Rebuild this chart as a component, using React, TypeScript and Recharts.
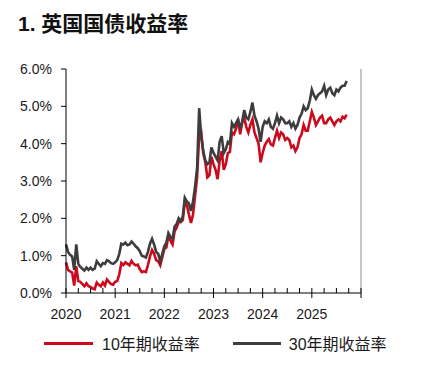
import React from 'react';
import { LineChart, Line, XAxis, YAxis } from 'recharts';

// half-monthly readings, Jan 2020 -> Sep 2025 (24 per year)
const startYear = 2020;
const stepsPerYear = 24;

const yield10y = [
  0.82, 0.62, 0.58, 0.55, 0.2, 0.72, 0.32, 0.3, 0.24, 0.18, 0.26, 0.18,
  0.16, 0.12, 0.1, 0.28, 0.22, 0.18, 0.28, 0.2, 0.36, 0.3, 0.24, 0.22,
  0.3, 0.32, 0.5, 0.8, 0.75, 0.82, 0.78, 0.74, 0.86, 0.78, 0.74, 0.76,
  0.64, 0.56, 0.58, 0.56, 0.75, 0.98, 1.15, 1.05, 0.88, 0.85, 0.74, 0.96,
  1.18, 1.22, 1.55, 1.4, 1.3, 1.65, 1.75, 1.9, 1.9, 1.95, 2.45, 2.35,
  2.1, 1.88, 2.1, 2.6, 3.1, 4.2, 4.3, 3.75, 3.5, 3.1, 3.15, 3.65,
  3.45, 3.3, 3.05, 3.55, 3.8, 3.3, 3.45, 3.75, 3.78, 4.3, 4.25, 4.4,
  4.65, 4.25, 4.55, 4.7, 4.45, 4.3, 4.5, 4.65, 4.3, 4.15, 4.0, 3.5,
  3.75, 3.95, 4.05, 4.12, 3.98, 3.95, 4.15, 4.35, 4.15, 4.3, 4.25, 4.1,
  4.15, 4.1, 3.9, 3.95, 3.8, 3.9, 4.15, 4.25, 4.5, 4.35, 4.35, 4.6,
  4.85, 4.7, 4.5, 4.6, 4.7, 4.75, 4.55, 4.55, 4.65, 4.7, 4.6, 4.5,
  4.6, 4.65, 4.6, 4.72, 4.68, 4.78,
];

const yield30y = [
  1.3, 1.1, 1.02, 0.98, 0.62, 1.3, 0.78, 0.7, 0.65, 0.6, 0.68, 0.62,
  0.68, 0.62, 0.65, 0.85, 0.78, 0.72, 0.8, 0.78, 0.88, 0.85, 0.8, 0.78,
  0.82, 0.88, 1.05, 1.32, 1.3, 1.35, 1.28, 1.3, 1.38, 1.32, 1.25, 1.2,
  1.12, 1.0, 0.98, 0.95, 1.1, 1.32, 1.45, 1.3, 1.1, 1.05, 0.85, 1.05,
  1.25, 1.35, 1.6, 1.5, 1.45, 1.78, 1.85, 2.0, 1.92, 2.05, 2.55, 2.45,
  2.4, 2.2, 2.45, 2.85, 3.35, 4.95, 4.2, 3.8, 3.55, 3.45, 3.5, 3.9,
  3.75, 3.65, 3.55, 4.05, 4.2, 3.75, 3.85, 4.05, 4.0, 4.55, 4.45, 4.55,
  4.65, 4.4, 4.6, 4.9, 4.7, 4.65, 4.85, 5.1, 4.75, 4.6, 4.4, 4.05,
  4.45, 4.6, 4.55, 4.65, 4.45, 4.4, 4.55, 4.75, 4.55, 4.7, 4.65, 4.55,
  4.55, 4.6, 4.45, 4.55, 4.4, 4.5, 4.7, 4.8, 5.0, 4.9, 4.95, 5.15,
  5.45, 5.3, 5.2, 5.3, 5.35, 5.4, 5.55, 5.3, 5.45, 5.5, 5.35, 5.3,
  5.45, 5.4, 5.5, 5.55, 5.55, 5.68,
];

const yearTicks = [
  2020, 2020.25, 2020.5, 2020.75, 2021, 2021.25, 2021.5, 2021.75,
  2022, 2022.25, 2022.5, 2022.75, 2023, 2023.25, 2023.5, 2023.75,
  2024, 2024.25, 2024.5, 2024.75, 2025, 2025.25, 2025.5, 2025.75, 2026,
];
const yearLabels = [2020, 2021, 2022, 2023, 2024, 2025];
const pctTicks = [0, 1, 2, 3, 4, 5, 6];

const data = yield10y.map((v, i) => ({
  t: startYear + i / stepsPerYear,
  y10: v,
  y30: yield30y[i],
}));

const FONT = '"Liberation Sans", Arial, "Noto Sans CJK SC", sans-serif';
const RED = '#cc0a1e';
const GREY = '#3d3d3d';

const YearTick = (props: any) => {
  const { x, y, payload } = props;
  const v = payload.value;
  const major = Math.abs(v - Math.round(v)) < 1e-6;
  return (
    <g>
      <line x1={x} x2={x} y1={y - 5} y2={major ? y + 5 : y} stroke="#000" />
      {major && yearLabels.includes(Math.round(v)) && (
        <text x={x} y={y + 26} textAnchor="middle" fontSize={14} fill="#1a1a1a" fontFamily={FONT}>
          {Math.round(v)}
        </text>
      )}
    </g>
  );
};

const fmt = (v: number) => v.toFixed(1) + '%';

export default function App() {
  return (
    <div style={{ position: 'absolute', left: 0, top: 0, width: 424, height: 369, background: '#fff', fontFamily: FONT }}>
      <div style={{ position: 'absolute', left: 18, top: 12, fontSize: 21, fontWeight: 'bold', lineHeight: '24px', color: '#111' }}>
        1. 英国国债收益率
      </div>
      <LineChart width={424} height={369} data={data} margin={{ top: 69, right: 0, left: 0, bottom: 46 }}>
        <XAxis
          dataKey="t"
          type="number"
          domain={[2020, 2026]}
          ticks={yearTicks}
          interval={0}
          tickSize={0}
          tickMargin={0}
          tick={<YearTick />}
          height={30}
          stroke="#000"
          axisLine={{ stroke: '#000' }}
        />
        <YAxis
          yAxisId="l"
          domain={[0, 6]}
          ticks={pctTicks}
          tickFormatter={fmt}
          width={66}
          tickSize={5}
          tickMargin={9}
          stroke="#000"
          tick={{ fill: '#1a1a1a', fontSize: 14, fontFamily: FONT }}
        />
        <YAxis
          yAxisId="r"
          orientation="right"
          domain={[0, 6]}
          ticks={pctTicks}
          tickFormatter={fmt}
          width={63}
          tickSize={5}
          tickMargin={9}
          stroke="#8c8c8c"
          tick={{ fill: '#1a1a1a', fontSize: 14, fontFamily: FONT }}
        />
        <Line yAxisId="l" type="linear" dataKey="y10" stroke={RED} strokeWidth={2.6} dot={false} isAnimationActive={false} />
        <Line yAxisId="l" type="linear" dataKey="y30" stroke={GREY} strokeWidth={2.6} dot={false} isAnimationActive={false} />
      </LineChart>
      <div style={{ position: 'absolute', left: 44, top: 331, display: 'flex', alignItems: 'center', fontSize: 16, color: '#1a1a1a' }}>
        <span style={{ display: 'inline-block', width: 49, height: 3, background: RED, marginRight: 9 }} />
        <span>10年期收益率</span>
        <span style={{ display: 'inline-block', width: 48, height: 3, background: GREY, marginLeft: 33, marginRight: 8 }} />
        <span>30年期收益率</span>
      </div>
    </div>
  );
}
